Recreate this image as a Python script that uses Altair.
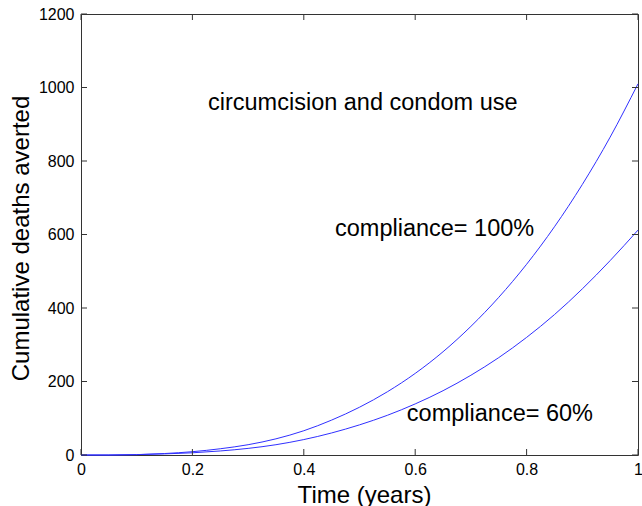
import altair as alt
import pandas as pd

# data
t = [0.0, 0.05, 0.1, 0.15, 0.2, 0.25, 0.3, 0.35, 0.4, 0.45, 0.5,
     0.55, 0.6, 0.65, 0.7, 0.75, 0.8, 0.85, 0.9, 0.95, 1.0]
full = [0, 0, 1, 4, 9, 17, 28, 44, 66, 95, 130,
        172, 222, 281, 350, 429, 519, 621, 736, 865, 1010]
sixty = [0, 0, 1, 3, 6, 11, 18, 28, 42, 60, 82,
         108, 139, 175, 217, 265, 320, 382, 452, 529, 612]

x_ticks = [0, 0.2, 0.4, 0.6, 0.8, 1.0]
y_ticks = [0, 200, 400, 600, 800, 1000, 1200]

notes = ["circumcision and condom use", "compliance= 100%", "compliance= 60%"]
note_x = [0.228, 0.456, 0.585]
note_y = [958, 615, 112]

W, H = 557, 441
FONT = "Liberation Sans"
TICK = 6

df = pd.DataFrame({
    "t": t * 2,
    "v": full + sixty,
    "s": ["100%"] * len(t) + ["60%"] * len(t),
})
df_notes = pd.DataFrame({"x": note_x, "y": note_y, "label": notes})
df_xt = pd.DataFrame({"x": x_ticks})
df_yt = pd.DataFrame({"y": y_ticks})

xs = alt.Scale(domain=[0, 1], nice=False, zero=False)
ys = alt.Scale(domain=[0, 1200], nice=False)

lines = alt.Chart(df).mark_line(color="#3030ff", strokeWidth=1, interpolate="monotone").encode(
    x=alt.X("t:Q", scale=xs, axis=alt.Axis(
        title="Time (years)", values=x_ticks, format="~g", tickSize=0,
        domain=False, grid=False, labelPadding=6, labelFontSize=16,
        labelFont=FONT, labelColor="#000", titleFont=FONT, titleFontSize=24,
        titleFontWeight="normal", titleColor="#000", titleBaseline="alphabetic",
        titleY=47, titleX=283, labelFlush=False)),
    y=alt.Y("v:Q", scale=ys, axis=alt.Axis(
        title="Cumulative deaths averted", values=y_ticks, format="d", tickSize=0,
        domain=False, grid=False, labelPadding=7, labelFontSize=16,
        labelFont=FONT, labelColor="#000", titleFont=FONT, titleFontSize=24,
        titleFontWeight="normal", titleColor="#000", titleBaseline="alphabetic",
        titleX=-53, titleY=224, titleAngle=270, labelFlush=False)),
    detail="s:N",
)

text = alt.Chart(df_notes).mark_text(
    align="left", baseline="middle", fontSize=23.5, font=FONT, color="#000"
).encode(x=alt.X("x:Q", scale=xs), y=alt.Y("y:Q", scale=ys), text="label:N")

tick_color = "#333"
xb = alt.Chart(df_xt).mark_rule(color=tick_color, strokeWidth=1).encode(
    x=alt.X("x:Q", scale=xs), y=alt.value(H), y2=alt.value(H - TICK))
xt = alt.Chart(df_xt).mark_rule(color=tick_color, strokeWidth=1).encode(
    x=alt.X("x:Q", scale=xs), y=alt.value(0), y2=alt.value(TICK))
yl = alt.Chart(df_yt).mark_rule(color=tick_color, strokeWidth=1).encode(
    y=alt.Y("y:Q", scale=ys), x=alt.value(0), x2=alt.value(TICK))
yr = alt.Chart(df_yt).mark_rule(color=tick_color, strokeWidth=1).encode(
    y=alt.Y("y:Q", scale=ys), x=alt.value(W), x2=alt.value(W - TICK))

chart = alt.layer(lines, text, xb, xt, yl, yr).properties(
    width=W, height=H,
    autosize=alt.AutoSizeParams(type="none"),
    padding={"left": 81, "top": 14, "right": 4, "bottom": 51},
    background="white",
).configure_view(stroke="#333", strokeWidth=1)

chart.save("out.html", embed_options={"renderer": "svg", "actions": False})
